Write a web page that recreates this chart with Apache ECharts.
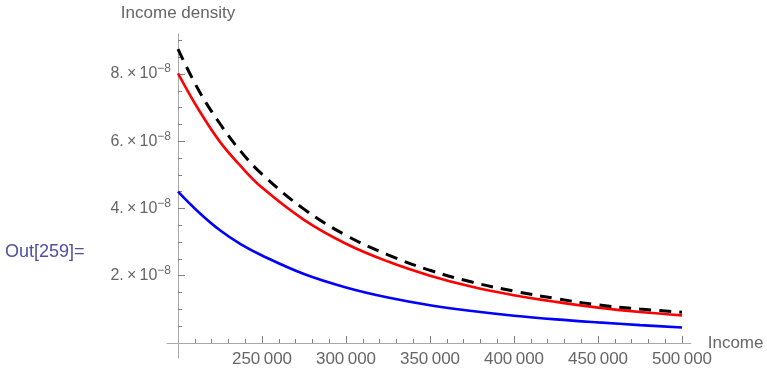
<!DOCTYPE html>
<html>
<head>
<meta charset="utf-8">
<script src="https://cdn.jsdelivr.net/npm/echarts@6/dist/echarts.min.js"></script>
<style>html,body{margin:0;padding:0;background:#fff;}#c{width:767px;height:374px;}</style>
</head>
<body>
<div id="c"></div>
<script>
// Data
const incomes = [200000, 212500, 225000, 237500, 250000, 275000, 300000, 325000, 350000, 375000, 400000, 425000, 450000, 475000, 500000];
const redDensity   = [8.02e-8, 6.92e-8, 5.98e-8, 5.25e-8, 4.62e-8, 3.66e-8, 2.95e-8, 2.42e-8, 2.00e-8, 1.67e-8, 1.42e-8, 1.22e-8, 1.05e-8, 0.92e-8, 0.82e-8];
const blackDensity = [8.74e-8, 7.50e-8, 6.52e-8, 5.69e-8, 5.02e-8, 3.98e-8, 3.20e-8, 2.62e-8, 2.16e-8, 1.81e-8, 1.54e-8, 1.32e-8, 1.13e-8, 1.01e-8, 0.91e-8];
const blueDensity  = [4.50e-8, 3.88e-8, 3.35e-8, 2.93e-8, 2.60e-8, 2.05e-8, 1.65e-8, 1.35e-8, 1.12e-8, 0.95e-8, 0.81e-8, 0.70e-8, 0.61e-8, 0.53e-8, 0.46e-8];

const xMajorTicks = [250000, 300000, 350000, 400000, 450000, 500000];
const xMinorTicks = [210000, 220000, 230000, 240000, 260000, 270000, 280000, 290000, 310000, 320000, 330000, 340000, 360000, 370000, 380000, 390000, 410000, 420000, 430000, 440000, 460000, 470000, 480000, 490000];
const yMajorTicks = [2e-8, 4e-8, 6e-8, 8e-8];
const yMinorTicks = [0.5e-8, 1e-8, 1.5e-8, 2.5e-8, 3e-8, 3.5e-8, 4.5e-8, 5e-8, 5.5e-8, 6.5e-8, 7e-8, 7.5e-8, 8.5e-8, 9e-8];

const xMin = 193452, xMax = 505179;
const yMin = -0.449e-8, yMax = 9.19e-8;

const FONT = 'Liberation Sans';
const TXT = '#666666';
const AXC = '#a8a8a8';
const TKC = '#808080';

const pair = (arr) => incomes.map((x, i) => [x, arr[i]]);

const chart = echarts.init(document.getElementById('c'), null, {renderer: 'canvas'});
chart.setOption({
  animation: false,
  backgroundColor: '#ffffff',
  title: {
    text: 'Out[259]=', left: 0, top: 238,
    textStyle: {fontFamily: FONT, fontSize: 18, fontWeight: 'normal', color: '#4f4fa0'}
  },
  grid: {left: 167, right: 76.3, top: 34, bottom: 16, containLabel: false, outerBoundsMode: 'none'},
  xAxis: [
    {
      type: 'value', min: xMin, max: xMax, position: 'bottom',
      axisLine: {onZero: true, onZeroAxisIndex: 0, lineStyle: {color: AXC, width: 1}},
      axisTick: {inside: true, length: 7, customValues: xMajorTicks, lineStyle: {color: TKC}},
      axisLabel: {
        customValues: xMajorTicks, margin: -7, color: TXT, fontFamily: FONT, fontSize: 17,
        formatter: v => { const s = String(Math.round(v)); return s.slice(0, s.length - 3) + '\u2009' + s.slice(-3); }
      },
      splitLine: {show: false},
      name: 'Income', nameLocation: 'end', nameGap: 17, nameMoveOverlap: false,
      nameTextStyle: {color: TXT, fontFamily: FONT, fontSize: 17}
    },
    {
      type: 'value', min: xMin, max: xMax, position: 'bottom',
      axisLine: {show: false, onZero: true, onZeroAxisIndex: 1},
      axisTick: {inside: true, length: 4, customValues: xMinorTicks, lineStyle: {color: TKC}},
      axisLabel: {show: false},
      splitLine: {show: false}
    }
  ],
  yAxis: [
    {
      type: 'value', min: yMin, max: yMax, position: 'left', offset: -11,
      axisLine: {show: true, onZero: false, lineStyle: {color: AXC, width: 1}},
      axisTick: {inside: true, length: 7, customValues: yMajorTicks, lineStyle: {color: TKC}},
      axisLabel: {
        customValues: yMajorTicks, margin: 7, color: TXT, fontFamily: FONT, fontSize: 16,
        formatter: v => '{a|' + Math.round(v / 1e-8) + '.\u2009×\u200910}{b|\u22128}',
        rich: {
          a: {fontFamily: FONT, fontSize: 16, color: TXT},
          b: {fontFamily: FONT, fontSize: 12, color: TXT, padding: [0, 0, 10, 0]}
        }
      },
      splitLine: {show: false},
      name: 'Income density', nameLocation: 'end', nameGap: 12, nameMoveOverlap: false,
      nameTextStyle: {color: TXT, fontFamily: FONT, fontSize: 17, align: 'center'}
    },
    {
      type: 'value', min: yMin, max: yMax, position: 'left', offset: -11,
      axisLine: {show: false, onZero: false},
      axisTick: {inside: true, length: 4, customValues: yMinorTicks, lineStyle: {color: TKC}},
      axisLabel: {show: false},
      splitLine: {show: false}
    }
  ],
  series: [
    {
      type: 'line', name: 'blue', data: pair(blueDensity), xAxisIndex: 0, yAxisIndex: 0,
      smooth: 0.4, showSymbol: false, symbol: 'none',
      lineStyle: {color: '#0000ff', width: 2.6}
    },
    {
      type: 'line', name: 'red', data: pair(redDensity), xAxisIndex: 0, yAxisIndex: 0,
      smooth: 0.4, showSymbol: false, symbol: 'none',
      lineStyle: {color: '#ff0000', width: 2.6}
    },
    {
      type: 'line', name: 'black', data: pair(blackDensity), xAxisIndex: 0, yAxisIndex: 0,
      smooth: 0.4, showSymbol: false, symbol: 'none',
      lineStyle: {color: '#000000', width: 3, type: [12, 8]}
    }
  ]
});
</script>
</body>
</html>
